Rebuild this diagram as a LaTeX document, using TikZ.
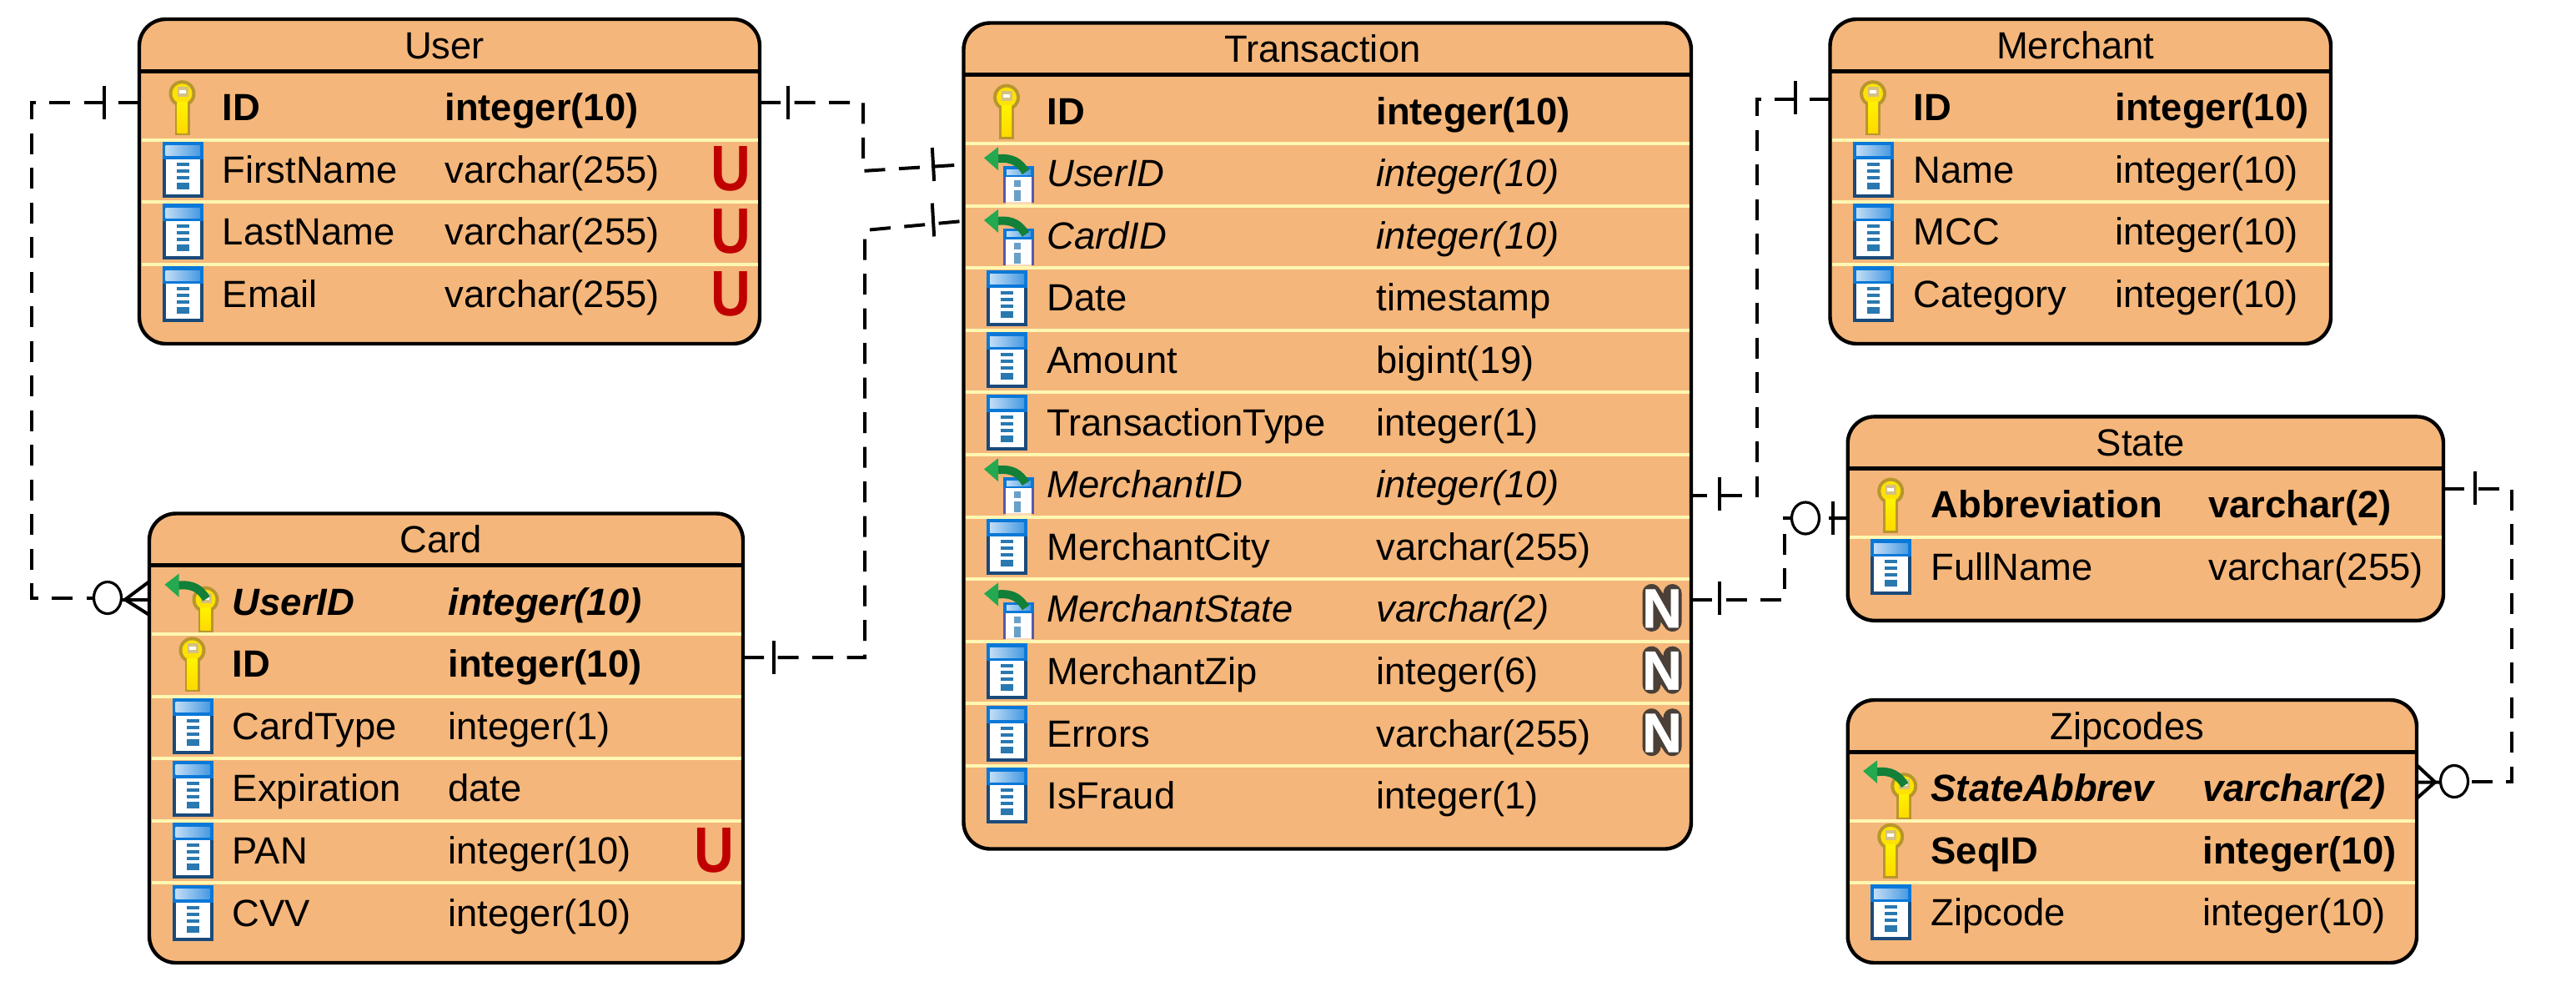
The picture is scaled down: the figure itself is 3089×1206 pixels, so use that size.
\documentclass[tikz,border=0pt]{standalone}
\usepackage{fontspec}
\setmainfont{Liberation Sans}
\newfontface\nbadgefont[FakeBold=1]{Liberation Sans Bold}
\newfontface\ubadgefont[FakeStretch=0.86]{Liberation Sans Bold}
\usetikzlibrary{shapes.geometric}

\definecolor{tablefill}{HTML}{F4B67A}
\definecolor{sepyellow}{HTML}{FFF7B2}
\definecolor{keyrim}{HTML}{B8962E}
\definecolor{iconblue}{HTML}{0A78D8}
\definecolor{icondark}{HTML}{1A4A7A}
\definecolor{iconmark}{HTML}{2A78B0}
\definecolor{greenhead}{HTML}{24A850}
\definecolor{greenshaft}{HTML}{128038}
\definecolor{badgedark}{HTML}{4A4038}

\newcommand{\tablefont}{\fontsize{22.7pt}{27pt}\selectfont}

% key: x, y, lower end
\newcommand{\keyshape}[3]{
	\fill[keyrim] (#1,#2-18) circle [radius=16];
	\fill[keyrim] (#1-9,#2-8) rectangle (#1+9,#3);
	\fill[yellow!85!orange] (#1,#2-18) circle [radius=12];
	\shade[top color=yellow!90!orange,bottom color=yellow!70!orange] (#1-6,#2-8) rectangle (#1+6,#3-3);
	\fill[keyrim!60!white] (#1-6,#2-26) rectangle (#1+7,#2-14);
	\fill[white] (#1-4,#2-22) rectangle (#1+4,#2-18);
}
% green arrow of a foreign key
\newcommand{\fkarrow}[2]{
	\draw[greenshaft,line width=5pt] (#1-17,#2-21) .. controls (#1+2,#2-23) and (#1+10,#2-16) .. (#1+17,#2-5);
	\fill[greenhead] (#1-33,#2-22) -- (#1-16,#2-35) -- (#1-16,#2-7) -- cycle;
}

\tikzset{
	tablebox/.style={draw=black,fill=tablefill,line width=2.2pt,rounded corners=16pt,inner sep=0},
	rowbox/.style={inner sep=0,outer sep=0},
	headline/.style={line width=2.5pt},
	sepline/.style={sepyellow,line width=2pt},
	titletext/.style={inner sep=0,anchor=base,font=\tablefont},
	colrow/.style={inner sep=0,anchor=base west,font=\tablefont},
	pkrow/.style={colrow,font=\tablefont\bfseries},
	fkrow/.style={colrow,font=\tablefont\itshape},
	fkpkrow/.style={colrow,font=\tablefont\bfseries\itshape},
	flag/.style={inner sep=0,anchor=base},
	flagU/.style={flag,text={rgb,255:red,192;green,0;blue,0},font=\ubadgefont\fontsize{38.5pt}{40pt}\selectfont},
	flagN/.style={flag,text=white,yshift=1.75pt,font=\nbadgefont\fontsize{33pt}{35pt}\selectfont},
	relline/.style={line width=2pt,dash pattern=on 12.5pt off 8.25pt},
	footline/.style={line width=2pt},
	onebar/.style={fill=black,inner sep=0,minimum width=2pt,minimum height=20pt},
	zeromark/.style={ellipse,draw=black,line width=1.6pt,inner sep=0,minimum width=16.5pt,minimum height=19pt},
	back/.pic={},
	Uback/.pic={},
	Nback/.pic={\draw[badgedark,line width=11pt,line cap=round,line join=round] (-12.5,-9.5) -- (-12.5,-44.5) -- (12.5,-9.5) -- (12.5,-44.5);},
	pkicon/.pic={\keyshape{0}{0}{32}},
	fkpkicon/.pic={\keyshape{16}{14}{36}\fkarrow{0}{0}},
	colicon/.pic={
		\fill[iconblue] (-24,-35) rectangle (25,-14);
		\shade[left color=iconblue!25!white,right color=iconblue!75!white] (-20,-30) rectangle (21,-18);
		\fill[icondark] (-24,-14) rectangle (25,32);
		\fill[white] (-20,-14) rectangle (21,28);
		\foreach \dy in {-8,0,8} \fill[iconmark] (-7,\dy-2) rectangle (8,\dy+2);
		\fill[iconmark] (-7,14) rectangle (8,22);
	},
	fkicon/.pic={
		\fill[gray!70!blue] (-4,1) rectangle (33,34);
		\fill[white] (-1,1) rectangle (30,33);
		\fill[tablefill!50!white] (-1,33) rectangle (30,36);
		\fill[iconblue] (-4,-10) rectangle (33,3);
		\shade[left color=iconblue!25!white,right color=iconblue!75!white] (0,-6) rectangle (29,0);
		\fill[iconmark!70!white] (9,7) rectangle (17,15);
		\fill[iconmark!70!white] (9,19) rectangle (17,32);
		\fkarrow{6}{2}
	},
}

% name, title, left, top, right, bottom, x of the types, rows
\newcommand{\dbtable}[8]{
	\pgfmathsetmacro\xmid{(#3+#5)/2}
	\pgfmathsetmacro\ymid{(#4+#6)/2}
	\pgfmathsetlengthmacro\boxw{(#5-#3)*0.5pt}
	\pgfmathsetlengthmacro\boxh{(#6-#4)*0.5pt}
	\node (#1) [tablebox,minimum width=\boxw,minimum height=\boxh] at (\xmid,\ymid) {};
	\node (#1-title) [titletext] at (\xmid-6,#4+47) {#2};
	\draw[headline] (#3,#4+62) -- (#5,#4+62);
	\foreach \kind/\rowname/\rowtype/\rowflag [count=\i] in {#8} {
		\pgfmathsetmacro\cy{#4+107.2+(\i-1)*74.6}
		\ifnum\i>1
			\draw[sepline] (#3+2.5,\cy-37.3) -- (#5-2.5,\cy-37.3);
		\fi
		\node (#1-\i) [rowbox,minimum width=\boxw,minimum height=37.3pt] at (\xmid,\cy) {};
		\pic at (#3+51.5,\cy) {\kind icon};
		\node (#1-\i-name) [\kind row] at (#3+99.5,\cy+14.3) {\rowname};
		\node (#1-\i-type) [\kind row] at (#7,\cy+14.3) {\rowtype};
		\pic at (#5-35,\cy+24) {\rowflag back};
		\node (#1-\i-flag) [flag\rowflag] at (#5-35,\cy+24) {\rowflag};
	}
}

\begin{document}
\begin{tikzpicture}[x=0.5pt,y=-0.5pt]
	\useasboundingbox (0,0) rectangle (3089,1206);
	
	\dbtable{user}{User}{167}{23}{911}{412}{533}{pk/ID/integer(10)/,col/FirstName/varchar(255)/U,col/LastName/varchar(255)/U,col/Email/varchar(255)/U}
	\dbtable{card}{Card}{179}{615.5}{891}{1154}{537}{fkpk/UserID/integer(10)/,pk/ID/integer(10)/,col/CardType/integer(1)/,col/Expiration/date/,col/PAN/integer(10)/U,col/CVV/integer(10)/}
	\dbtable{transaction}{Transaction}{1155.5}{27.5}{2028}{1017.5}{1650}{pk/ID/integer(10)/,fk/UserID/integer(10)/,fk/CardID/integer(10)/,col/Date/timestamp/,col/Amount/bigint(19)/,col/TransactionType/integer(1)/,fk/MerchantID/integer(10)/,col/MerchantCity/varchar(255)/,fk/MerchantState/varchar(2)/N,col/MerchantZip/integer(6)/N,col/Errors/varchar(255)/N,col/IsFraud/integer(1)/}
	\dbtable{merchant}{Merchant}{2194.5}{23}{2795}{412}{2536}{pk/ID/integer(10)/,col/Name/integer(10)/,col/MCC/integer(10)/,col/Category/integer(10)/}
	\dbtable{state}{State}{2215.7}{499.4}{2930}{743.8}{2648}{pk/Abbreviation/varchar(2)/,col/FullName/varchar(255)/}
	\dbtable{zipcodes}{Zipcodes}{2215.7}{839}{2898}{1154}{2641}{fkpk/StateAbbrev/varchar(2)/,pk/SeqID/integer(10)/,col/Zipcode/integer(10)/}
	
	% marks on the lines
	\node (userBarL) [onebar] at (125,122.7) {};
	\node (userBarR) [onebar] at (945,122.7) {};
	\node (transBarU) [onebar,rotate=3.3] at (1119,197) {};
	\node (transBarC) [onebar,rotate=3.3] at (1119,263.5) {};
	\node (cardBar) [onebar] at (928,787.5) {};
	\node (merchantBarL) [onebar] at (2153,116.5) {};
	\node (merchantBarR) [onebar] at (2062,592) {};
	\node (mstateBar) [onebar] at (2062,717) {};
	\node (stateBarL) [onebar] at (2198,621) {};
	\node (stateBarR) [onebar] at (2968,584.5) {};
	\node (cardZero) [zeromark] at (129,716.5) {};
	\node (stateZero) [zeromark] at (2165,621) {};
	\node (zipZero) [zeromark] at (2943,936.5) {};
	\coordinate (cardFoot) at (150,718.7);
	\coordinate (zipFoot) at (2920,937.5);
	
	\draw[relline] ([yshift=3.65pt]user-1.west) -- ++(-129,0) |- (cardZero.west);
	\draw[relline] ([yshift=3.65pt]user-1.east) -- ++(124,0) -- ++(0,82) -- ([yshift=6pt]transaction-2.west);
	\draw[relline] ([yshift=4.65pt]card-2.east) -- ++(146,0) -- ++(0,-512) -- ([yshift=9.5pt]transaction-3.west);
	\draw[relline] ([yshift=5.8pt]merchant-1.west) -- ++(-87.5,0) |- ([yshift=-5.85pt]transaction-7.east);
	\draw[relline] ([yshift=6.4pt]transaction-9.east) -- ++(112,0) |- (stateZero.west);
	\draw[relline] ([yshift=10.55pt]state-1.east) -- ++(82,0) |- (zipZero.east);
	
	% crow's feet
	\draw[footline] (cardZero.east |- cardFoot) -- ([yshift=2pt]card-1.west);
	\draw[footline] ([yshift=12.85pt]card-1.west) -- (cardFoot) -- ([yshift=-7.15pt]card-1.west);
	\draw[footline] ([xshift=-2.5pt]stateBarL.center) -- ([yshift=-7.2pt]state-1.west);
	\draw[footline] (zipZero.west |- zipFoot) -- ([yshift=4.35pt]zipcodes-1.east);
	\draw[footline] ([yshift=14.6pt]zipcodes-1.east) -- (zipFoot) -- ([yshift=-5.4pt]zipcodes-1.east);
\end{tikzpicture}
\end{document}
